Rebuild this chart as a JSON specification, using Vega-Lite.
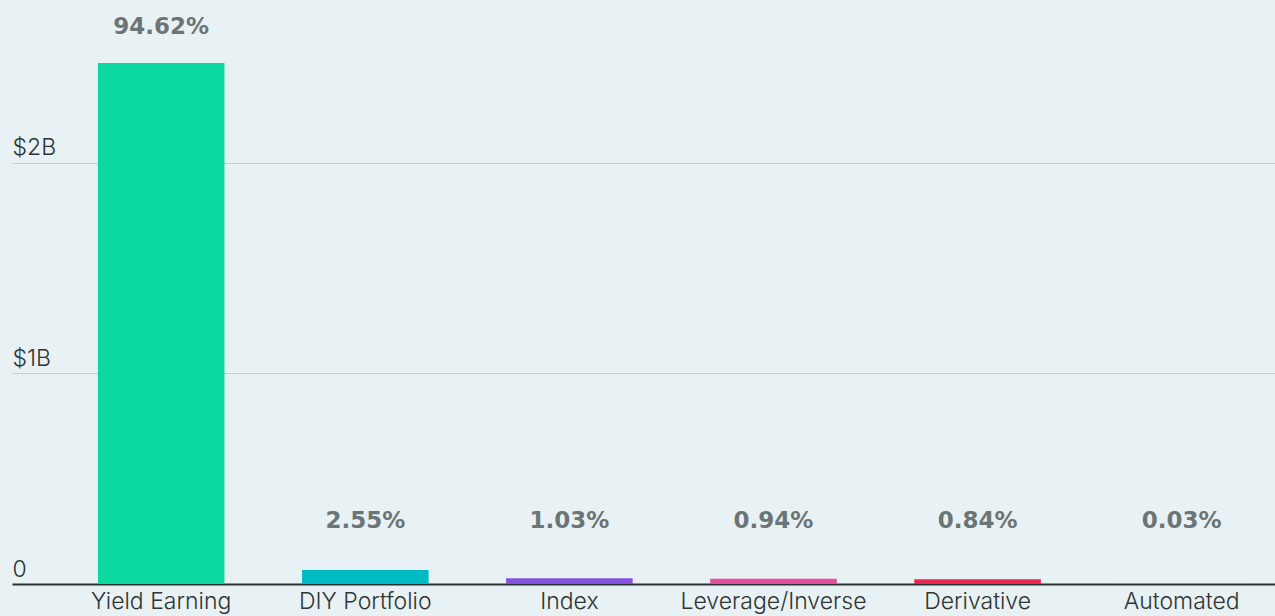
{
  "$schema": "https://vega.github.io/schema/vega-lite/v6.json",
  "autosize": {"type": "none"},
  "width": 1263,
  "height": 584,
  "padding": {"left": 12, "top": 0, "right": 0, "bottom": 32},
  "background": "#e8f1f3",
  "config": {"view": {"stroke": null}},
  "data": {
    "values": [
      {"category": "Yield Earning", "value": 2475000000, "pct": "94.62%"},
      {"category": "DIY Portfolio", "value": 66700000, "pct": "2.55%"},
      {"category": "Index", "value": 26940000, "pct": "1.03%"},
      {"category": "Leverage/Inverse", "value": 24590000, "pct": "0.94%"},
      {"category": "Derivative", "value": 21970000, "pct": "0.84%"},
      {"category": "Automated", "value": 785000, "pct": "0.03%"}
    ]
  },
  "transform": [
    {"calculate": "max(datum.value, 130600000)", "as": "labelY"}
  ],
  "encoding": {
    "x": {
      "field": "category",
      "type": "nominal",
      "sort": null,
      "scale": {"paddingInner": 0.38, "paddingOuter": 0.284, "align": 0.741},
      "axis": {
        "title": null,
        "labelAngle": 0,
        "labelLimit": 0,
        "ticks": false,
        "domain": true,
        "domainColor": "#2b3232",
        "domainWidth": 2,
        "labelFont": "Inter",
        "labelFontWeight": 300,
        "labelFontSize": 23,
        "labelColor": "#2f3535",
        "labelPadding": 6,
        "labelBaseline": "top",
        "grid": false
      }
    }
  },
  "layer": [
    {
      "mark": {"type": "bar"},
      "encoding": {
        "y": {
          "field": "value",
          "type": "quantitative",
          "scale": {"domain": [0, 2774000000], "nice": false},
          "axis": {
            "title": null,
            "values": [0, 1000000000, 2000000000],
            "labelExpr": "datum.value == 0 ? '0' : '$' + (datum.value / 1e9) + 'B'",
            "domain": false,
            "ticks": false,
            "grid": true,
            "gridColor": "#c6cdcf",
            "gridWidth": 1,
            "labelAlign": "left",
            "labelPadding": 0,
            "labelBaseline": "alphabetic",
            "labelOffset": -8,
            "labelFont": "Inter",
            "labelFontWeight": 300,
            "labelFontSize": 23,
            "labelColor": "#2f3535"
          }
        },
        "color": {
          "field": "category",
          "type": "nominal",
          "sort": null,
          "legend": null,
          "scale": {
            "domain": ["Yield Earning", "DIY Portfolio", "Index", "Leverage/Inverse", "Derivative", "Automated"],
            "range": ["#0bd9a0", "#00bac4", "#8552e0", "#e64d9c", "#e8264f", "#f5a623"]
          }
        }
      }
    },
    {
      "mark": {
        "type": "text",
        "baseline": "middle",
        "align": "center",
        "dy": -36,
        "font": "DejaVu Sans",
        "fontWeight": "bold",
        "fontSize": 23,
        "color": "#6b7575"
      },
      "encoding": {
        "y": {"field": "labelY", "type": "quantitative"},
        "text": {"field": "pct"}
      }
    }
  ]
}
